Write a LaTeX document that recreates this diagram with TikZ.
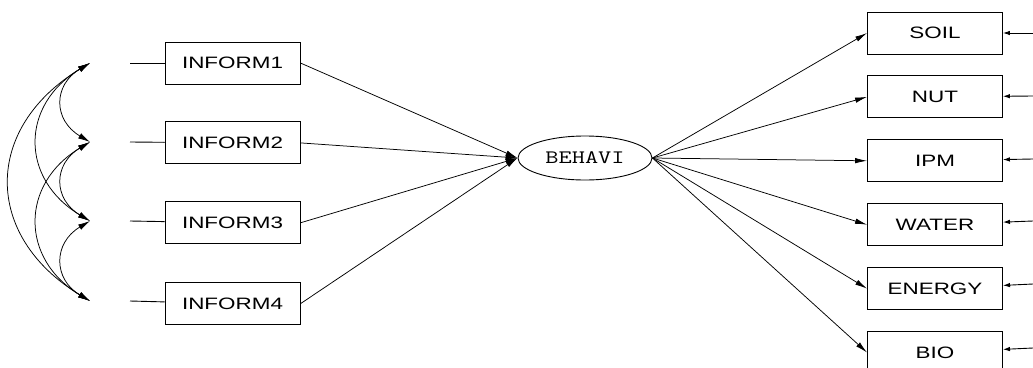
\documentclass[tikz,border=0pt]{standalone}
\usepackage{fontspec}
\usetikzlibrary{positioning,shapes.geometric,arrows.meta}
\newfontfamily\boxfont[FakeStretch=1.36]{Liberation Sans}
\newfontfamily\latfont[FakeStretch=1.35]{Latin Modern Mono}

\begin{document}
\begin{tikzpicture}[x=1pt,y=-1pt,
box/.style={draw,line width=0.9pt,minimum width=135pt,minimum height=42pt,inner sep=0pt,font=\boxfont\fontsize{16.5}{18}\selectfont},
lat/.style={draw,ellipse,line width=0.9pt,minimum width=134pt,minimum height=44pt,inner sep=0pt,font=\latfont\fontsize{19}{21}\selectfont},
arr/.style={-{Latex[length=12pt,width=5.5pt]},line width=0.75pt},
cov/.style={{Latex[length=12pt,width=6pt]}-{Latex[length=12pt,width=6pt]},line width=0.75pt},
err/.style={-{Latex[length=7pt,width=4.5pt]},line width=0.9pt}]
\useasboundingbox (0,0) rectangle (1033,367);
% x side
\node[box] (inf1) at (232.5,63) {INFORM1};
\node[box,below=37pt of inf1] (inf2) {INFORM2};
\node[box,below=37pt of inf2] (inf3) {INFORM3};
\node[box,below=38pt of inf3] (inf4) {INFORM4};
\node[lat] (behavi) at (585,158) {BEHAVI};
% y side
\node[box] (soil) at (935,33) {SOIL};
\node[box,below=21pt of soil] (nut) {NUT};
\node[box,below=21pt of nut] (ipm) {IPM};
\node[box,below=21pt of ipm] (water) {WATER};
\node[box,below=21pt of water] (energy) {ENERGY};
\node[box,below=21pt of energy] (bio) {BIO};
% error ends
\coordinate (e1) at (90,63);
\coordinate (e2) at (90,142);
\coordinate (e3) at (90,221);
\coordinate (e4) at (90,301);
\coordinate (l1) at (130,63);
\coordinate (l2) at (130,142);
\coordinate (l3) at (130,221);
\coordinate (l4) at (130,301);
\coordinate (r1) at (1033,33);
\coordinate (r2) at (1033,96);
\coordinate (r3) at (1033,159);
\coordinate (r4) at (1033,221);
\coordinate (r5) at (1033,284);
\coordinate (r6) at (1033,348);
\draw[line width=0.9pt] (l1) -- (inf1);
\draw[line width=0.9pt] (l2) -- (inf2);
\draw[line width=0.9pt] (l3) -- (inf3);
\draw[line width=0.9pt] (l4) -- (inf4);
% covariances
\draw[cov] (e1) .. controls +(-37,22) and +(-37,-22) .. (e2);
\draw[cov] (e2) .. controls +(-37,22) and +(-37,-22) .. (e3);
\draw[cov] (e3) .. controls +(-37,22) and +(-37,-22) .. (e4);
\draw[cov] (e1) .. controls +(-70,42) and +(-70,-42) .. (e3);
\draw[cov] (e2) .. controls +(-70,42) and +(-70,-42) .. (e4);
\draw[cov] (e1) .. controls +(-107,65) and +(-107,-65) .. (e4);
% paths
\draw[arr] (inf1.east) -- (behavi.west);
\draw[arr] (inf2.east) -- (behavi.west);
\draw[arr] (inf3.east) -- (behavi.west);
\draw[arr] (inf4.east) -- (behavi.west);
\draw[arr] (behavi.east) -- (soil.west);
\draw[arr] (behavi.east) -- (nut.west);
\draw[arr] (behavi.east) -- (ipm.west);
\draw[arr] (behavi.east) -- (water.west);
\draw[arr] (behavi.east) -- (energy.west);
\draw[arr] (behavi.east) -- (bio.west);
\draw[err] (r1) -- (soil);
\draw[err] (r2) -- (nut);
\draw[err] (r3) -- (ipm);
\draw[err] (r4) -- (water);
\draw[err] (r5) -- (energy);
\draw[err] (r6) -- (bio);
\end{tikzpicture}
\end{document}
